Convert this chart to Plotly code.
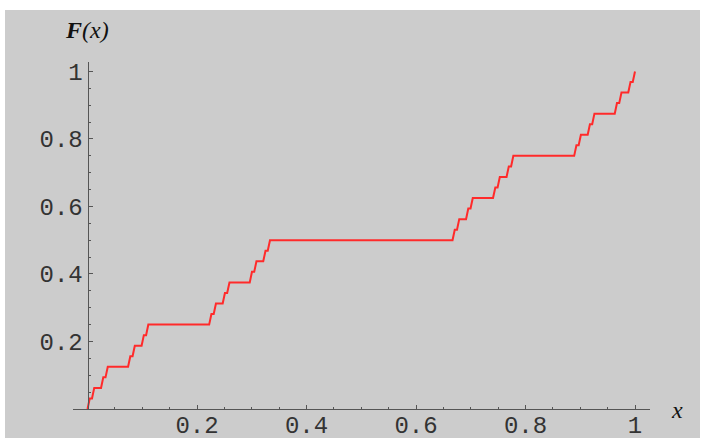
import plotly.graph_objects as go

# Plateaus of the staircase
plateau_left = [0.0041, 0.0123, 0.0288, 0.0370, 0.0782, 0.0864, 0.1029, 0.1111,
                0.2263, 0.2346, 0.2510, 0.2593, 0.3004, 0.3086, 0.3251, 0.3333,
                0.6708, 0.6790, 0.6955, 0.7037, 0.7449, 0.7531, 0.7695, 0.7778,
                0.8930, 0.9012, 0.9177, 0.9259, 0.9671, 0.9753, 0.9918]
plateau_right = [0.0082, 0.0247, 0.0329, 0.0741, 0.0823, 0.0988, 0.1070, 0.2222,
                 0.2305, 0.2469, 0.2551, 0.2963, 0.3045, 0.3210, 0.3292, 0.6667,
                 0.6749, 0.6914, 0.6996, 0.7407, 0.7490, 0.7654, 0.7737, 0.8889,
                 0.8971, 0.9136, 0.9218, 0.9630, 0.9712, 0.9877, 0.9959]
plateau_level = [0.03125, 0.0625, 0.09375, 0.125, 0.15625, 0.1875, 0.21875, 0.25,
                 0.28125, 0.3125, 0.34375, 0.375, 0.40625, 0.4375, 0.46875, 0.5,
                 0.53125, 0.5625, 0.59375, 0.625, 0.65625, 0.6875, 0.71875, 0.75,
                 0.78125, 0.8125, 0.84375, 0.875, 0.90625, 0.9375, 0.96875]
start_point = (0.0, 0.0)
end_point = (1.0, 1.0)

x_ticks = [0.2, 0.4, 0.6, 0.8, 1.0]
x_tick_text = ["0.2", "0.4", "0.6", "0.8", "1"]
y_ticks = [0.2, 0.4, 0.6, 0.8, 1.0]
y_tick_text = ["0.2", "0.4", "0.6", "0.8", "1"]
minor_ticks = [0.05, 0.1, 0.15, 0.25, 0.3, 0.35, 0.45, 0.5, 0.55,
               0.65, 0.7, 0.75, 0.85, 0.9, 0.95]

xs = [start_point[0]]
ys = [start_point[1]]
for l, r, v in zip(plateau_left, plateau_right, plateau_level):
    xs += [l, r]
    ys += [v, v]
xs.append(end_point[0])
ys.append(end_point[1])

W, H = 701, 438
ml, mr, mt, mb = 73, 51, 62, 29
xr = [-0.0265, 1.0274]
yr = [0.0, 1.028]
ypos = (0 - xr[0]) / (xr[1] - xr[0])

GRAY = "#cccccc"
AX = "#555555"
tickfont = dict(family="Liberation Mono, Courier New, monospace", size=24, color="#333333")

fig = go.Figure()
fig.add_trace(go.Scatter(x=xs, y=ys, mode="lines",
                         line=dict(color="#ff2a2a", width=2), hoverinfo="skip",
                         showlegend=False))

fig.update_layout(
    width=W, height=H,
    margin=dict(l=ml, r=mr, t=mt, b=mb, pad=0, autoexpand=False),
    paper_bgcolor="white", plot_bgcolor=GRAY,
    showlegend=False,
    xaxis=dict(range=xr, showgrid=False, zeroline=False, showline=True,
               linecolor=AX, linewidth=1, ticks="inside", ticklen=4,
               tickcolor=AX, tickvals=x_ticks, ticktext=x_tick_text,
               tickfont=tickfont, automargin=False, ticklabelstandoff=-6,
               minor=dict(tickvals=minor_ticks, ticks="inside", ticklen=2, tickcolor=AX),
               fixedrange=True),
    yaxis=dict(range=yr, showgrid=False, zeroline=False, showline=True,
               linecolor=AX, linewidth=1, ticks="inside", ticklen=4,
               tickcolor=AX, tickvals=y_ticks, ticktext=y_tick_text,
               tickfont=tickfont, anchor="free", position=ypos, automargin=False,
               minor=dict(tickvals=minor_ticks, ticks="inside", ticklen=2, tickcolor=AX),
               fixedrange=True),
)

pw = W - ml - mr
ph = H - mt - mb
def px_to_paper_x(px):
    return (px - ml) / pw
def px_to_paper_y(py):
    return (H - mb - py) / ph
fig.add_shape(type="rect", xref="paper", yref="paper", layer="below",
              x0=px_to_paper_x(5), x1=px_to_paper_x(700),
              y0=px_to_paper_y(438), y1=px_to_paper_y(10),
              fillcolor=GRAY, line=dict(width=0))

fig.add_annotation(xref="paper", yref="paper", x=px_to_paper_x(87), y=px_to_paper_y(30),
                   text="<i><b>F</b>(x)</i>", showarrow=False,
                   font=dict(family="Liberation Serif, Times New Roman, serif", size=24, color="#111111"),
                   xanchor="center", yanchor="middle")
fig.add_annotation(xref="paper", yref="paper", x=px_to_paper_x(677), y=px_to_paper_y(410),
                   text="<i>x</i>", showarrow=False,
                   font=dict(family="Liberation Serif, Times New Roman, serif", size=24, color="#111111"),
                   xanchor="center", yanchor="middle")

fig.write_html("out.html", config={"displayModeBar": False},
               post_script="document.body.style.margin='0';document.body.style.overflow='hidden';")
